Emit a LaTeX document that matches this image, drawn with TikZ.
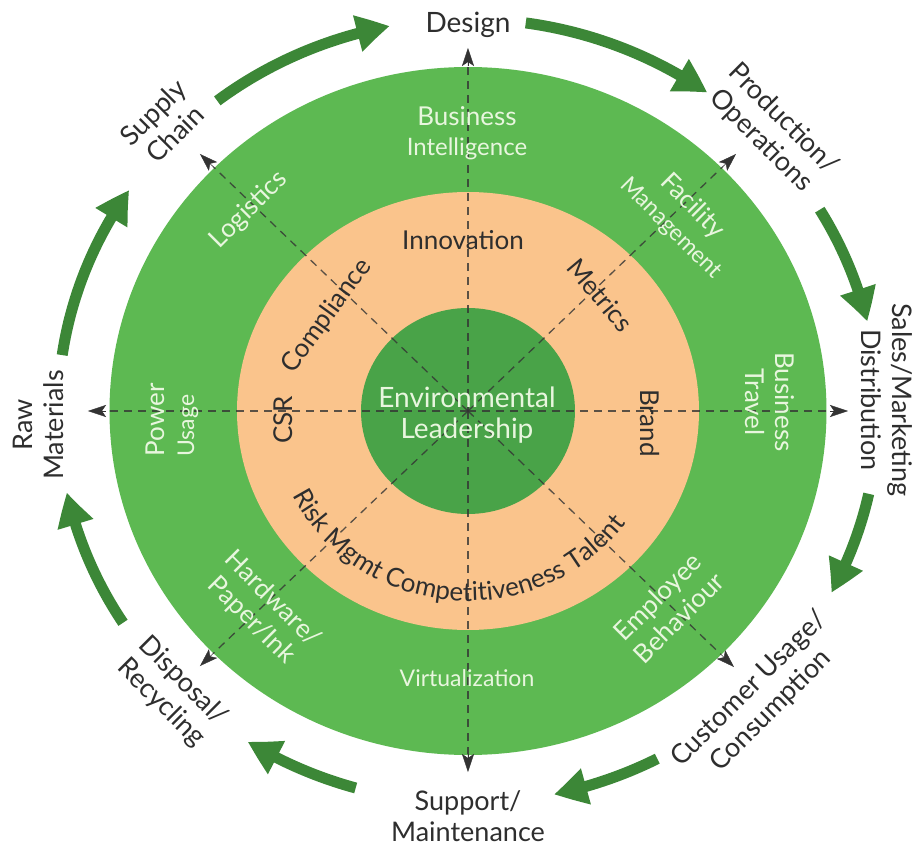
\documentclass[tikz,border=0pt]{standalone}
\usepackage{fontspec}
\setmainfont{Lato}
\usetikzlibrary{arrows.meta,bending,calc,decorations.text}
\definecolor{ringgreen}{HTML}{5DB952}
\definecolor{coregreen}{HTML}{49A348}
\definecolor{peach}{HTML}{FAC48C}
\definecolor{arrowgreen}{HTML}{3C8737}
\definecolor{darktext}{HTML}{2E2E2E}
\definecolor{lighttext}{HTML}{E8F6DE}
\definecolor{dashgray}{HTML}{333333}
\begin{document}
\begin{tikzpicture}[x=1pt,y=1pt,
  outerlbl/.style={text=darktext, font=\fontsize{27}{31}\selectfont, align=center, inner sep=0pt},
  ringlbl/.style={text=lighttext, font=\fontsize{26}{30}\selectfont, align=center, inner sep=0pt},
  peachlbl/.style={text=darktext, font=\fontsize{26}{30}\selectfont, inner sep=0pt},
  spoke/.style={draw=dashgray, draw opacity=0.8, line width=1.3pt, dash pattern=on 8pt off 6pt},
  spoketip/.style={-{Stealth[length=18pt,width=12pt,inset=4pt]}, draw=dashgray, fill=dashgray, line width=0.4pt},
  cyclearrow/.style={draw=arrowgreen, line width=11pt, -{Triangle[length=33pt,width=35pt,bend]}},
]
\useasboundingbox (-468,-438) rectangle (454,411);
\fill[white] (-468,-438) rectangle (454,411);
\coordinate (C) at (0,0);
% rings
\fill[ringgreen] (C) ellipse [x radius=358.5pt, y radius=344pt];
\fill[peach] (C) ellipse [x radius=231pt, y radius=219pt];
\fill[coregreen] (C) ellipse [x radius=107pt, y radius=103pt];
% spokes
\coordinate (tN) at (0,363);
\coordinate (tS) at (0,-361);
\coordinate (tW) at (-380,0);
\coordinate (tE) at (380,0);
\coordinate (tNW) at (-268,257);
\coordinate (tNE) at (268,257);
\coordinate (tSW) at (-268,-255);
\coordinate (tSE) at (266,-256);
\foreach \t in {tN,tS,tW,tE,tNW,tNE,tSW,tSE}{
  \coordinate (b\t) at ($(\t)!18pt!(C)$);
  \draw[spoke] (C) -- (b\t);
  \draw[spoketip] (b\t) -- (\t);
}
% core
\node[text=lighttext, font=\fontsize{28}{31}\selectfont, align=center, inner sep=0pt] (env) at (-1,-4) {Environmental\\Leadership};
% peach labels
\node[peachlbl] (innov) at (-5,171) {Innovation};
\node[peachlbl, rotate=54] (compl) at (-141,95) {Compliance};
\node[peachlbl, rotate=-50] (metr) at (132,116) {Metrics};
\node[peachlbl, rotate=90] (csr) at (-185,-9) {CSR};
\node[peachlbl, rotate=-90] (brand) at (182,-12) {Brand};
\path[decorate, decoration={text along path, text align=center,
   text={|\fontsize{26}{30}\selectfont\color{darktext}|Risk Mgmt Competitiveness Talent}}]
   (185:196pt and 190pt) arc[start angle=185, end angle=345, x radius=196pt, y radius=190pt];
% ring labels
\node[ringlbl] (bi) at (-1,278) {Business\\{\fontsize{24}{27}\selectfont Intelligence}};
\node[ringlbl, rotate=45] (logi) at (-219,201) {Logistics};
\node[ringlbl, rotate=-45] (fac) at (214,194) {Facility\\{\fontsize{23}{26}\selectfont Management}};
\node[ringlbl, rotate=90, align=left] (power) at (-296,-9) {Power\\{\fontsize{23}{26}\selectfont Usage}};
\node[ringlbl, rotate=-90] (travel) at (302,9) {Business\\Travel};
\node[ringlbl, rotate=-45] (hw) at (-206,-199) {Hardware/\\Paper/Ink};
\node[ringlbl, rotate=45] (emp) at (200,-196) {Employee\\Behaviour};
\node[ringlbl, font=\fontsize{23}{26}\selectfont] (virt) at (-1,-267) {Virtualization};
% outer labels
\node[outerlbl, font=\fontsize{28}{31}\selectfont] (design) at (0,386) {Design};
\node[outerlbl, rotate=-45] (prod) at (304,281) {Production/\\Operations};
\node[outerlbl, rotate=-90] (sales) at (419,11) {Sales/Marketing\\Distribution};
\node[outerlbl, rotate=45] (cust) at (292,-289) {Customer Usage/\\Consumption};
\node[outerlbl] (support) at (0,-405) {Support/\\Maintenance};
\node[outerlbl, rotate=-45] (disp) at (-296,-281) {Disposal/\\Recycling};
\node[outerlbl, rotate=90] (raw) at (-430,-14) {Raw\\Materials};
\node[outerlbl, rotate=45] (supply) at (-304,288) {Supply\\Chain};
% cycle arrows
\foreach \s/\e [count=\i] in {127.7/101, 81.9/54.3, 30.9/13.2, -12.2/-27.6, -62.5/-77.9, -105.9/-122.5, -147.3/-168, 171.8/145.7}{
  \coordinate (as\i) at (\s:410pt and 392pt);
  \draw[cyclearrow] (as\i) arc[start angle=\s, end angle=\e, x radius=410pt, y radius=392pt];
}
\end{tikzpicture}
\end{document}
